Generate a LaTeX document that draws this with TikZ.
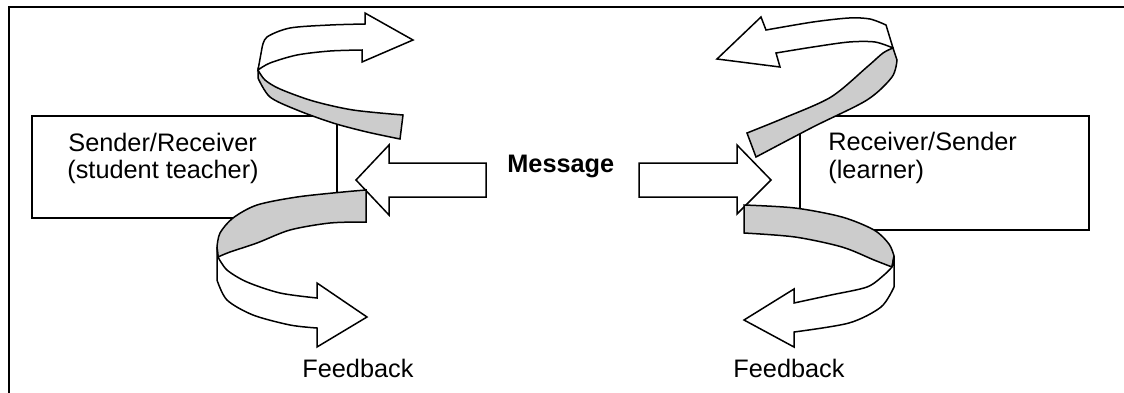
\documentclass[tikz,border=0pt]{standalone}
\usepackage{fontspec}
\setmainfont{Liberation Sans}
\definecolor{ribgrey}{RGB}{204,204,204}
\begin{document}
\begin{tikzpicture}[x=0.5pt,y=-0.5pt,line join=miter,
  outl/.style={draw=black,line width=0.75pt},
  boxshape/.style={outl,fill=white},
  greyband/.style={outl,fill=ribgrey},
  whiteband/.style={outl,fill=white},
  lbl/.style={inner sep=0pt,anchor=base west,font=\fontsize{12.65}{14}\selectfont},
  lblbold/.style={lbl,font=\fontsize{12.65}{14}\selectfont\bfseries}]
\useasboundingbox (0,0) rectangle (1124,392);
% frame (only top and left edges are inside the picture)
\draw[line width=1pt] (1130,6.7) -- (8.7,6.7) -- (8.7,400);
% boxes
\draw[boxshape] (32,116) rectangle (337,218);
\draw[boxshape] (800,116) rectangle (1089,230);
% labels
\node[lbl] (sr1) at (68,151) {Sender/Receiver};
\node[lbl] (sr2) at (67,178) {(student teacher)};
\node[lbl] (rs1) at (828,150) {Receiver/Sender};
\node[lbl] (rs2) at (828,178) {(learner)};
\node[lblbold] (msg) at (507,172) {Message};
\node[lbl] (fb1) at (302,377) {Feedback};
\node[lbl] (fb2) at (733,377) {Feedback};
% message arrows
\draw[whiteband] (486,163) -- (389,163) -- (389,145) -- (356,180) -- (389,215) -- (389,197) -- (486,197) -- cycle;
\draw[whiteband] (639,163) -- (737,163) -- (737,145) -- (771,180) -- (737,214) -- (737,197) -- (639,197) -- cycle;
% upper-left ribbon
\draw[greyband] plot[smooth] coordinates {(258,70) (265,80) (280,89) (313,101) (353,110) (403,115)}
  -- (400,139)
  -- plot[smooth] coordinates {(400,139) (367,132) (333,123) (297,110) (270,97) (258,78)} -- cycle;
\draw[whiteband] (258,70) -- (262,48)
  -- plot[smooth] coordinates {(262,48) (267,37) (290,28) (330,25) (365,24)}
  -- (365,13) -- (413,40) -- (362,62) -- (362,50)
  -- plot[smooth] coordinates {(362,50) (330,51) (297,55) (270,63) (258,70)} -- cycle;
% lower-left ribbon
\draw[greyband] plot[smooth] coordinates {(217,247) (220,233) (233,218) (257,205) (297,197) (343,192) (366,190)}
  -- (366,222)
  -- plot[smooth] coordinates {(366,222) (330,223) (290,230) (257,243) (230,252) (218,257)} -- cycle;
\draw[whiteband] (217,247) -- (217,280)
  -- plot[smooth] coordinates {(217,280) (227,300) (253,315) (290,325) (317,328)}
  -- (317,347) -- (367,317) -- (317,283) -- (317,298)
  -- plot[smooth] coordinates {(317,298) (280,293) (247,282) (227,270) (218,257)} -- cycle;
% upper-right ribbon
\draw[greyband] plot[smooth] coordinates {(747,133) (784,118) (831,97) (867,67) (883,53) (893,48)}
  -- (897,60)
  -- plot[smooth] coordinates {(897,60) (892,77) (867,100) (813,127) (756,157)} -- cycle;
\draw[whiteband] (893,48) -- (886,25)
  -- plot[smooth] coordinates {(886,25) (870,19) (849,18) (813,22) (766,30)}
  -- (761,17) -- (717,59) -- (780,67) -- (776,53)
  -- plot[smooth] coordinates {(776,53) (813,47) (849,42) (875,42) (893,48)} -- cycle;
% lower-right ribbon
\draw[greyband] plot[smooth] coordinates {(744,205) (795,208) (842,217) (874,230) (889,244) (894,256)}
  -- (892,267)
  -- plot[smooth] coordinates {(892,267) (874,260) (842,247) (795,237) (744,233)} -- cycle;
\draw[whiteband] (894,256) -- (894,287)
  -- plot[smooth] coordinates {(894,287) (881,307) (849,323) (794,332)}
  -- (794,347) -- (744,320) -- (794,289) -- (794,303)
  -- plot[smooth] coordinates {(794,303) (831,295) (867,287) (884,275) (892,267)} -- cycle;
\end{tikzpicture}
\end{document}
